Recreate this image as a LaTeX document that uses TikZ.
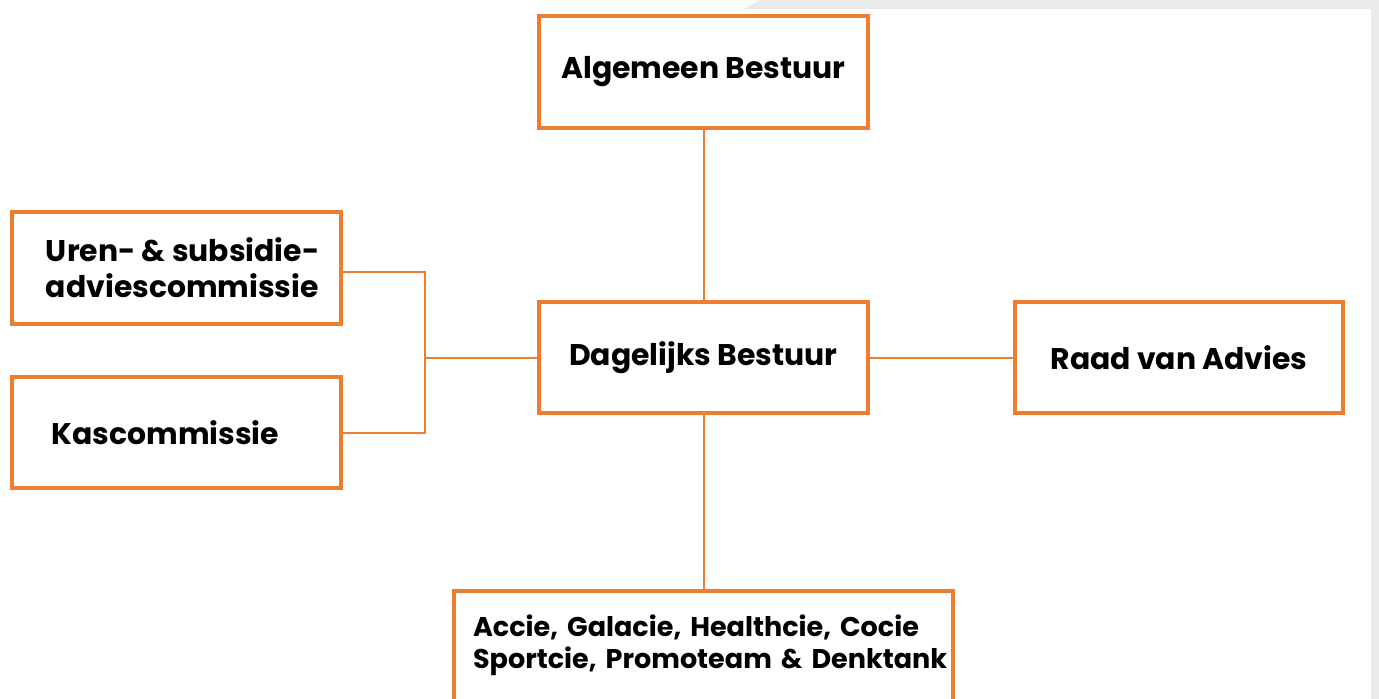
\documentclass[tikz,border=0pt]{standalone}
\usepackage{fontspec}
\setmainfont{Poppins}[BoldFont={* Bold}]
\usepackage{xcolor}
\usepackage{tikz}
\usetikzlibrary{positioning}

\definecolor{bestuuroranje}{HTML}{ED7D31}
\definecolor{randgrijs}{HTML}{E9EBEB}

\tikzset{
	orgbox/.style={draw=bestuuroranje, line width=0.08cm, fill=white, minimum width=6.58cm, minimum height=2.24cm, font=\bfseries\fontsize{17}{20.5}\selectfont, align=center},
	orglijn/.style={draw=bestuuroranje, line width=0.04cm}
}

\begin{document}
\begin{tikzpicture}[x=0.02cm, y=-0.02cm]
		\useasboundingbox (0, 0) rectangle (1379, 699);
		\clip (0, 0) rectangle (1379, 699);
		\fill[randgrijs] (744, 9) -- (760, 0) -- (1379, 0) -- (1379, 699) -- (1371, 699) -- (1371, 9) -- cycle;
		
		\node[orgbox] (algemeen) at (703.5, 72) {Algemeen Bestuur};
		\node[orgbox] (dagelijks) at (703.5, 357.5) {Dagelijks Bestuur};
		\node[orgbox] (raad) at (1179, 357.5) {Raad van Advies};
		\node[orgbox, align=left] (uren) at (176.5, 268) {\hspace*{0.25cm}Uren- \& subsidie-\\\hspace*{0.25cm}adviescommissie};
		\node[orgbox] (kas) at (176.5, 432.5) {Kascommissie\hspace{0.45cm}};
		\node[orgbox, font=\bfseries\fontsize{15.4}{18.2}\selectfont, minimum width=9.98cm, text width=9.22cm, align=left, anchor=north, inner xsep=0.38cm, inner ysep=0.48cm, text depth=2cm] (commissies) at (703.5, 589)
			{\mbox{Accie, Galacie, Healthcie, Cocie}\\\mbox{Sportcie, Promoteam \& Denktank}};
		
		\coordinate (splitsing) at (425, 357.5);
		\draw[orglijn] (algemeen) -- (dagelijks);
		\draw[orglijn] (dagelijks) -- (commissies);
		\draw[orglijn] (dagelijks) -- (raad);
		\draw[orglijn] (dagelijks) -- (splitsing);
		\draw[orglijn] ([yshift=-0.08cm]uren.east) -| (splitsing) |- (kas.east);
		
		\end{tikzpicture}
\end{document}
